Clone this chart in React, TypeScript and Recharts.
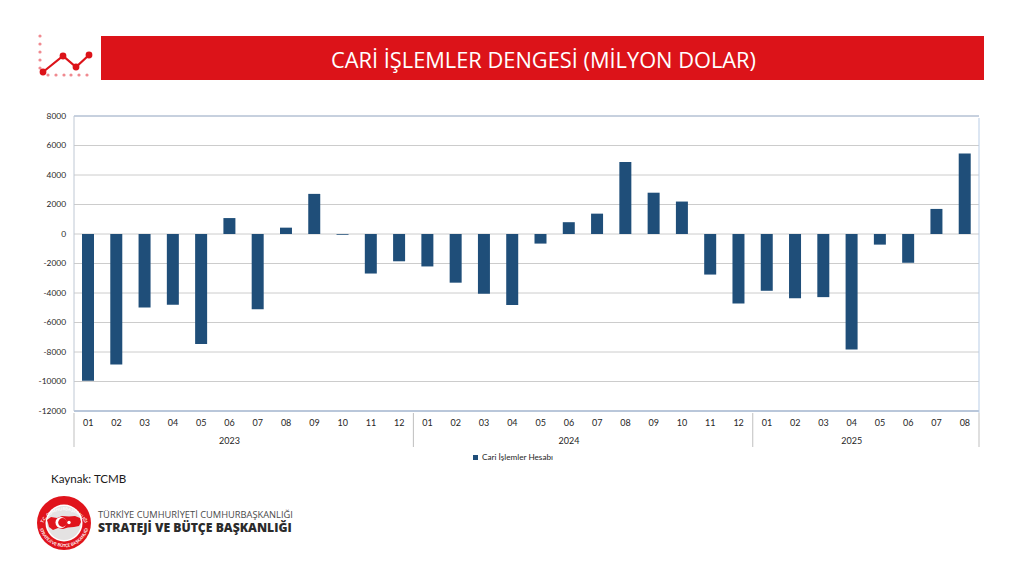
import { Bar, BarChart, CartesianGrid, Legend, ReferenceLine, XAxis, YAxis } from 'recharts'

// aylar ve yıllar
const months = [
  '01', '02', '03', '04', '05', '06', '07', '08', '09', '10', '11', '12',
  '01', '02', '03', '04', '05', '06', '07', '08', '09', '10', '11', '12',
  '01', '02', '03', '04', '05', '06', '07', '08',
]
const years = [
  '', '', '', '', '', '2023', '', '', '', '', '', '',
  '', '', '', '', '', '2024', '', '', '', '', '', '',
  '', '', '', '2025', '', '', '', '',
]
const balance = [
  -9950, -8850, -4980, -4800, -7450, 1080, -5100, 430, 2720, -50, -2680, -1850,
  -2200, -3300, -4050, -4820, -650, 800, 1380, 4880, 2800, 2200, -2750, -4720,
  -3850, -4350, -4280, -7830, -720, -1950, 1700, 5450,
]
const yTicks = [8000, 6000, 4000, 2000, 0, -2000, -4000, -6000, -8000, -10000, -12000]
const yearStarts = [0, 12, 24]

const chartData = months.map((month, i) => ({
  key: i,
  month,
  year: years[i],
  value: balance[i],
}))

const FONT = 'Lato, "Open Sans", sans-serif'
const BAND = 905 / months.length

function MonthTick({ x, y, index, payload }: any) {
  const i = index ?? payload?.index ?? 0
  const left = x - BAND / 2
  const right = x + BAND / 2
  return (
    <g>
      <text x={x} y={y + 7} textAnchor="middle" fontSize={9} fontFamily={FONT} fill="#262626">
        {months[i]}
      </text>
      {yearStarts.includes(i) && <line x1={left} x2={left} y1={y - 6} y2={y + 28} stroke="#bfbfbf" />}
      {i === months.length - 1 && (
        <>
          <line x1={right} x2={right} y1={y - 301} y2={y - 6} stroke="#b9cde6" />
          <line x1={right} x2={right} y1={y - 6} y2={y + 28} stroke="#bfbfbf" />
        </>
      )}
    </g>
  )
}

function YearTick({ x, y, index }: any) {
  return (
    <text x={x} y={y + 1} textAnchor="middle" fontSize={9} fontFamily={FONT} fill="#262626">
      {years[index]}
    </text>
  )
}

function CornerIcon() {
  const dotsV = [16, 24, 32, 40, 48]
  const dotsH = [48, 56, 64, 71, 79, 87]
  return (
    <svg width={100} height={70} style={{ position: 'absolute', left: 0, top: 20 }}>
      {dotsV.map((y) => <circle key={y} cx={40} cy={y} r={1.6} fill="#f08a90" />)}
      {dotsH.map((x) => <circle key={x} cx={x} cy={55} r={1.6} fill="#f08a90" />)}
      <polyline points="43,52 63,36 76,47 89,35" fill="none" stroke="#dc1319" strokeWidth={2.2} />
      {[[43, 52], [63, 36], [76, 47], [89, 35]].map(([cx, cy]) => (
        <circle key={cx} cx={cx} cy={cy} r={3.4} fill="#dc1319" />
      ))}
    </svg>
  )
}

function Logo() {
  return (
    <svg width={60} height={60} viewBox="0 0 60 60" style={{ position: 'absolute', left: 33, top: 493 }}>
      <circle cx={31} cy={30} r={27} fill="#e0141c" />
      <circle cx={31} cy={30} r={18.5} fill="#fff" />
      <circle cx={31} cy={30} r={17} fill="#e4e2e2" />
      <path
        d="M14 27 L18 24 L24 25 L29 23 L36 23.5 L42 23 L47 25 L48 29 L46 33 L41 34 L35 34.5 L30 36 L25 35 L20 37 L16 34 L15 30 Z"
        fill="#e0141c"
      />
      <circle cx={28} cy={29.5} r={5.5} fill="#fff" />
      <circle cx={29.6} cy={29.5} r={4.4} fill="#e0141c" />
      <circle cx={36} cy={29.5} r={1.7} fill="#fff" />
      <defs>
        <path id="logo-top" d="M8 36 A23.5 23.5 0 0 1 54 36" />
        <path id="logo-bottom" d="M6.5 34 A25 25 0 0 0 55.5 34" />
      </defs>
      <text fontSize={4.2} fontWeight={700} fontFamily={FONT} fill="#fff" textAnchor="middle">
        <textPath href="#logo-top" startOffset="50%">T.C. CUMHURBAŞKANLIĞI</textPath>
      </text>
      <text fontSize={4.2} fontWeight={700} fontFamily={FONT} fill="#fff" textAnchor="middle">
        <textPath href="#logo-bottom" startOffset="50%">STRATEJİ VE BÜTÇE BAŞKANLIĞI</textPath>
      </text>
    </svg>
  )
}

export default function App() {
  return (
    <div style={{ position: 'absolute', left: 0, top: 0, width: 1024, height: 576, background: '#fff', overflow: 'hidden' }}>
      <CornerIcon />
      <div
        style={{
          position: 'absolute',
          left: 103,
          top: 36,
          width: 881,
          height: 44,
          boxShadow: '-2px 0 0 #dc1319',
          background: '#dc1319',
          color: '#fff',
          fontFamily: '"Open Sans", sans-serif',
          fontSize: 21.8,
          lineHeight: '47px',
          textAlign: 'center',
        }}
      >
        CARİ İŞLEMLER DENGESİ (MİLYON DOLAR)
      </div>

      <div style={{ position: 'absolute', left: 0, top: 0 }}>
        <BarChart
          width={1024}
          height={480}
          data={chartData}
          margin={{ top: 116, right: 45, bottom: 15, left: 14 }}
          barSize={12}
        >
          <CartesianGrid vertical={false} stroke="#cccccc" />
          <XAxis
            dataKey="key"
            xAxisId={0}
            interval={0}
            height={24}
            tick={<MonthTick />}
            tickLine={false}
            axisLine={{ stroke: '#8ea9cf' }}
          />
          <XAxis
            dataKey="key"
            xAxisId={1}
            interval={0}
            height={20}
            tick={<YearTick />}
            tickLine={false}
            axisLine={false}
          />
          <YAxis
            domain={[-12000, 8000]}
            ticks={yTicks}
            interval={0}
            width={60}
            tickLine={false}
            axisLine={{ stroke: '#bfc8d4' }}
            tick={{ fontSize: 8.4, fontFamily: FONT, fill: '#262626' }}
            tickMargin={2}
          />
          <ReferenceLine y={8000} stroke="#a9bcd8" />
          <Legend
            verticalAlign="bottom"
            iconType="square"
            iconSize={5}
            wrapperStyle={{ position: 'absolute', left: 418, top: 452, width: 200, fontSize: 8.2, fontFamily: FONT }}
            formatter={(v: string) => <span style={{ color: '#262626' }}>{v}</span>}
          />
          <Bar dataKey="value" name="Cari İşlemler Hesabı" fill="#1f4e79" isAnimationActive={false} />
        </BarChart>
      </div>

      <div style={{ position: 'absolute', left: 51, top: 472, fontFamily: FONT, fontSize: 11.6, color: '#1a1a1a' }}>
        Kaynak: TCMB
      </div>
      <Logo />
      <div style={{ position: 'absolute', left: 98, top: 510, height: 10, lineHeight: '10px', fontFamily: '"Open Sans", sans-serif', fontSize: 9.3, color: '#4a4a4a', whiteSpace: 'nowrap' }}>
        TÜRKİYE CUMHURİYETİ CUMHURBAŞKANLIĞI
      </div>
      <div style={{ position: 'absolute', left: 98, top: 521, height: 13, lineHeight: '13px', fontFamily: '"Open Sans", sans-serif', fontSize: 12.2, fontWeight: 800, color: '#2b2b2b', whiteSpace: 'nowrap' }}>
        STRATEJİ VE BÜTÇE BAŞKANLIĞI
      </div>
    </div>
  )
}
